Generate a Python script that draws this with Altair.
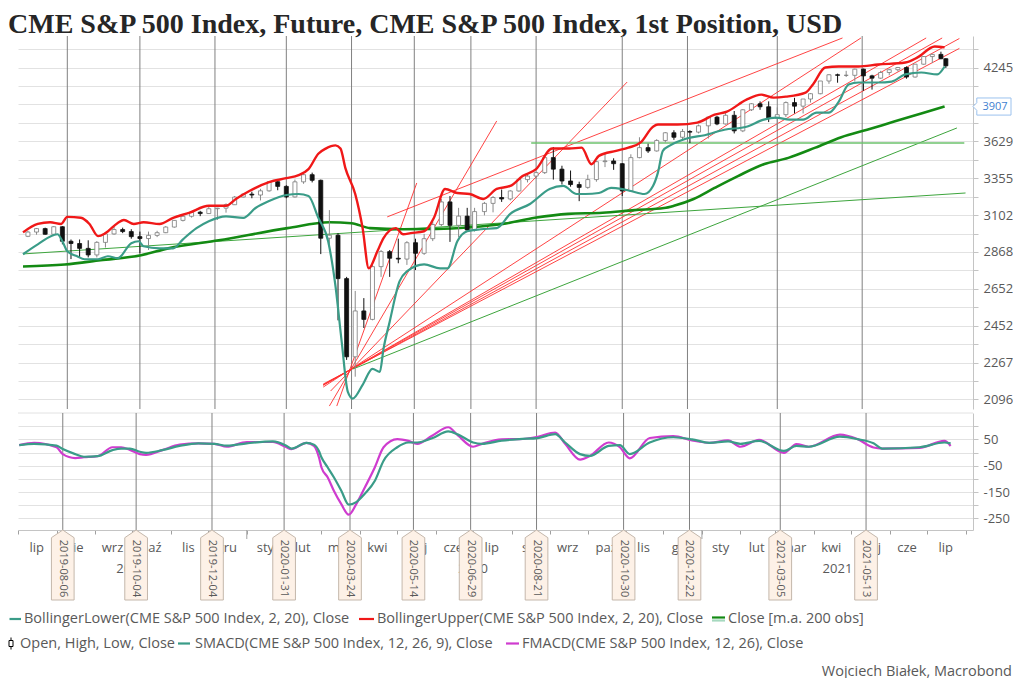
import altair as alt
import pandas as pd

TITLE = "CME S&P 500 Index, Future, CME S&P 500 Index, 1st Position, USD"
F = "Open Sans"

# ---------------- weekly OHLC candles ----------------
candle_dates = [
    "2019-07-05", "2019-07-12", "2019-07-19", "2019-07-26", "2019-08-02", "2019-08-09", "2019-08-16", "2019-08-23",
    "2019-08-30", "2019-09-06", "2019-09-13", "2019-09-20", "2019-09-27", "2019-10-04", "2019-10-11", "2019-10-18",
    "2019-10-25", "2019-11-01", "2019-11-08", "2019-11-15", "2019-11-22", "2019-11-29", "2019-12-06", "2019-12-13",
    "2019-12-20", "2019-12-27", "2020-01-03", "2020-01-10", "2020-01-17", "2020-01-24", "2020-01-31", "2020-02-07",
    "2020-02-14", "2020-02-21", "2020-02-28", "2020-03-06", "2020-03-13", "2020-03-20", "2020-03-27", "2020-04-03",
    "2020-04-10", "2020-04-17", "2020-04-24", "2020-05-01", "2020-05-08", "2020-05-15", "2020-05-22", "2020-05-29",
    "2020-06-05", "2020-06-12", "2020-06-19", "2020-06-26", "2020-07-02", "2020-07-10", "2020-07-17", "2020-07-24",
    "2020-07-31", "2020-08-07", "2020-08-14", "2020-08-21", "2020-08-28", "2020-09-04", "2020-09-11", "2020-09-18",
    "2020-09-25", "2020-10-02", "2020-10-09", "2020-10-16", "2020-10-23", "2020-10-30", "2020-11-06", "2020-11-13",
    "2020-11-20", "2020-11-27", "2020-12-04", "2020-12-11", "2020-12-18", "2020-12-24", "2020-12-31", "2021-01-08",
    "2021-01-15", "2021-01-22", "2021-01-29", "2021-02-05", "2021-02-12", "2021-02-19", "2021-02-26", "2021-03-05",
    "2021-03-12", "2021-03-19", "2021-03-26", "2021-04-01", "2021-04-09", "2021-04-16", "2021-04-23", "2021-04-30",
    "2021-05-07", "2021-05-14", "2021-05-21", "2021-05-28", "2021-06-04", "2021-06-11", "2021-06-18", "2021-06-25",
    "2021-07-02", "2021-07-09", "2021-07-16", "2021-07-20",
]
candle_open = [
    2965, 2992, 3014, 2978, 3026, 2934, 2920, 2890, 2850, 2927, 2980, 3008, 2995, 2963, 2951, 2971,
    2988, 3024, 3067, 3094, 3121, 3112, 3144, 3148, 3171, 3223, 3243, 3237, 3266, 3330, 3297, 3224,
    3329, 3380, 3340, 2953, 2972, 2710, 2295, 2530, 2485, 2780, 2870, 2830, 2825, 2925, 2860, 2950,
    3040, 3190, 3035, 3095, 3005, 3125, 3180, 3220, 3210, 3265, 3345, 3370, 3395, 3505, 3420, 3335,
    3310, 3290, 3345, 3475, 3480, 3460, 3265, 3505, 3580, 3555, 3635, 3695, 3660, 3705, 3700, 3750,
    3820, 3765, 3835, 3710, 3880, 3930, 3905, 3810, 3840, 3940, 3910, 3970, 4015, 4125, 4180, 4175,
    4175, 4230, 4170, 4150, 4200, 4225, 4245, 4160, 4275, 4345, 4365, 4325,
]
candle_high = [
    3000, 3018, 3020, 3030, 3030, 2945, 2945, 2940, 2935, 2985, 3025, 3020, 3010, 2995, 2995, 3000,
    3030, 3068, 3098, 3122, 3130, 3158, 3150, 3180, 3230, 3250, 3260, 3280, 3330, 3340, 3305, 3345,
    3385, 3395, 3345, 3135, 2985, 2720, 2640, 2600, 2810, 2880, 2880, 2950, 2935, 2950, 2980, 3060,
    3210, 3230, 3150, 3150, 3150, 3190, 3230, 3275, 3270, 3350, 3385, 3400, 3505, 3585, 3445, 3410,
    3330, 3380, 3480, 3535, 3500, 3465, 3530, 3660, 3610, 3645, 3700, 3715, 3725, 3715, 3760, 3825,
    3830, 3855, 3870, 3885, 3935, 3950, 3950, 3900, 3950, 3980, 3970, 4020, 4125, 4185, 4190, 4215,
    4235, 4235, 4180, 4215, 4230, 4250, 4255, 4275, 4350, 4370, 4390, 4330,
]
candle_low = [
    2960, 2975, 2975, 2975, 2915, 2825, 2835, 2835, 2835, 2895, 2975, 2985, 2950, 2860, 2880, 2960,
    2985, 3020, 3060, 3085, 3095, 3110, 3070, 3118, 3170, 3220, 3215, 3200, 3260, 3270, 3215, 3220,
    3315, 3325, 2855, 2900, 2480, 2280, 2200, 2440, 2480, 2720, 2720, 2800, 2790, 2760, 2850, 2935,
    3030, 2930, 2960, 3000, 2995, 3100, 3120, 3190, 3200, 3260, 3325, 3350, 3385, 3345, 3310, 3295,
    3195, 3280, 3330, 3435, 3415, 3230, 3260, 3500, 3540, 3550, 3620, 3640, 3645, 3615, 3690, 3650,
    3755, 3760, 3690, 3700, 3870, 3880, 3780, 3720, 3820, 3850, 3850, 3940, 4010, 4100, 4110, 4160,
    4120, 4040, 4050, 4145, 4175, 4210, 4145, 4155, 4270, 4285, 4320, 4240,
]
candle_close = [
    2992, 3014, 2978, 3026, 2934, 2920, 2890, 2850, 2927, 2980, 3008, 2995, 2963, 2951, 2971, 2988,
    3024, 3067, 3094, 3121, 3112, 3144, 3148, 3171, 3223, 3243, 3237, 3266, 3330, 3297, 3224, 3329,
    3380, 3340, 2953, 2972, 2710, 2295, 2530, 2485, 2780, 2870, 2830, 2825, 2925, 2860, 2950, 3040,
    3190, 3035, 3095, 3005, 3125, 3180, 3220, 3210, 3265, 3345, 3370, 3395, 3505, 3420, 3335, 3310,
    3290, 3345, 3475, 3480, 3460, 3265, 3505, 3580, 3555, 3635, 3695, 3660, 3705, 3700, 3750, 3820,
    3765, 3835, 3710, 3880, 3930, 3905, 3810, 3840, 3940, 3910, 3970, 4015, 4125, 4180, 4175, 4175,
    4230, 4170, 4150, 4200, 4225, 4245, 4160, 4275, 4345, 4365, 4325, 4260,
]

# ---------------- Bollinger bands and 200 MA ----------------
upper_dates = [
    "2019-07-01", "2019-07-13", "2019-07-23", "2019-08-01", "2019-08-06", "2019-08-17", "2019-08-24", "2019-08-31",
    "2019-09-06", "2019-09-16", "2019-09-21", "2019-09-29", "2019-10-07", "2019-10-20", "2019-10-31", "2019-11-13",
    "2019-11-29", "2019-12-13", "2019-12-21", "2020-01-01", "2020-01-17", "2020-01-31", "2020-02-10", "2020-02-18",
    "2020-02-26", "2020-03-03", "2020-03-11", "2020-03-15", "2020-03-19", "2020-03-27", "2020-04-02", "2020-04-07",
    "2020-04-14", "2020-04-19", "2020-04-29", "2020-05-05", "2020-05-11", "2020-05-22", "2020-05-30", "2020-06-08",
    "2020-06-18", "2020-06-28", "2020-07-09", "2020-07-20", "2020-07-31", "2020-08-10", "2020-08-21", "2020-09-03",
    "2020-09-17", "2020-09-27", "2020-10-05", "2020-10-11", "2020-10-25", "2020-11-04", "2020-11-14", "2020-11-24",
    "2020-11-28", "2020-12-14", "2020-12-30", "2021-01-13", "2021-01-23", "2021-02-08", "2021-02-20", "2021-03-02",
    "2021-03-12", "2021-03-28", "2021-04-03", "2021-04-13", "2021-04-24", "2021-05-10", "2021-05-26", "2021-06-17",
    "2021-06-27", "2021-07-11", "2021-07-19",
]
upper_vals = [
    2990, 3044, 3055, 3044, 3090, 3084, 3044, 2966, 2985, 3050, 3070, 3044, 3055, 3044, 3084, 3117,
    3164, 3164, 3210, 3265, 3327, 3355, 3377, 3420, 3534, 3573, 3597, 3573, 3427, 3244, 3017, 2770,
    2872, 2954, 3017, 2978, 2985, 2997, 3084, 3279, 3251, 3244, 3210, 3279, 3300, 3370, 3420, 3573,
    3573, 3580, 3456, 3518, 3556, 3580, 3620, 3743, 3760, 3760, 3776, 3840, 3865, 3965, 4007, 3982,
    3990, 4024, 4095, 4245, 4254, 4254, 4272, 4290, 4337, 4439, 4430,
]
lower_dates = [
    "2019-07-01", "2019-07-13", "2019-07-29", "2019-08-02", "2019-08-06", "2019-08-14", "2019-08-20", "2019-08-31",
    "2019-09-08", "2019-09-16", "2019-09-27", "2019-10-03", "2019-10-07", "2019-10-20", "2019-10-31", "2019-11-08",
    "2019-11-19", "2019-11-29", "2019-12-13", "2019-12-27", "2020-01-06", "2020-01-17", "2020-01-31", "2020-02-10",
    "2020-02-18", "2020-02-26", "2020-03-05", "2020-03-11", "2020-03-16", "2020-03-21", "2020-03-25", "2020-04-02",
    "2020-04-10", "2020-04-16", "2020-04-19", "2020-04-24", "2020-05-02", "2020-05-08", "2020-05-22", "2020-06-04",
    "2020-06-10", "2020-06-18", "2020-06-26", "2020-07-07", "2020-07-20", "2020-07-31", "2020-08-16", "2020-09-01",
    "2020-09-12", "2020-09-23", "2020-09-30", "2020-10-11", "2020-10-21", "2020-10-29", "2020-11-06", "2020-11-17",
    "2020-11-24", "2020-11-28", "2020-12-02", "2020-12-08", "2020-12-22", "2021-01-05", "2021-01-21", "2021-02-08",
    "2021-02-22", "2021-03-04", "2021-03-15", "2021-03-26", "2021-04-06", "2021-04-16", "2021-04-24", "2021-05-02",
    "2021-05-10", "2021-05-26", "2021-06-06", "2021-06-17", "2021-06-30", "2021-07-13", "2021-07-19",
]
lower_vals = [
    2854, 2915, 2978, 2934, 2872, 2842, 2824, 2824, 2842, 2830, 2922, 2934, 2903, 2890, 2890, 2946,
    3017, 3062, 3094, 3084, 3149, 3196, 3237, 3244, 3230, 3084, 2934, 2665, 2370, 2130, 2100, 2162,
    2237, 2223, 2335, 2473, 2694, 2752, 2793, 2770, 2770, 2934, 2997, 3010, 3017, 3110, 3176, 3279,
    3300, 3244, 3244, 3251, 3286, 3280, 3265, 3244, 3300, 3395, 3556, 3597, 3652, 3676, 3719, 3743,
    3800, 3816, 3800, 3800, 3857, 3857, 3948, 4095, 4112, 4112, 4120, 4183, 4200, 4183, 4254,
]
ma_dates = [
    "2019-07-01", "2019-08-04", "2019-09-02", "2019-10-05", "2019-10-27", "2019-12-07", "2020-02-01", "2020-03-06",
    "2020-03-24", "2020-04-08", "2020-05-05", "2020-06-01", "2020-06-28", "2020-07-25", "2020-08-20", "2020-09-16",
    "2020-10-14", "2020-11-09", "2020-12-03", "2020-12-11", "2020-12-27", "2021-01-13", "2021-02-01", "2021-02-22",
    "2021-03-14", "2021-04-05", "2021-04-26", "2021-05-17", "2021-06-08", "2021-06-30", "2021-07-19",
]
ma_vals = [
    2781, 2793, 2818, 2848, 2890, 2940, 3017, 3055, 3049, 3017, 3010, 3012, 3023, 3044, 3084, 3110,
    3117, 3135, 3149, 3164, 3210, 3286, 3370, 3456, 3503, 3580, 3660, 3719, 3784, 3849, 3907,
]

# ---------------- MACD ----------------
macd_dates = [
    "2019-07-02", "2019-07-14", "2019-08-01", "2019-08-06", "2019-08-16", "2019-08-23", "2019-09-03", "2019-09-15",
    "2019-09-22", "2019-09-29", "2019-10-07", "2019-10-12", "2019-10-25", "2019-11-08", "2019-11-23", "2019-12-06",
    "2019-12-16", "2020-01-01", "2020-01-22", "2020-02-01", "2020-02-06", "2020-02-18", "2020-02-24", "2020-02-28",
    "2020-03-01", "2020-03-06", "2020-03-11", "2020-03-17", "2020-03-23", "2020-03-29", "2020-04-05", "2020-04-13",
    "2020-04-20", "2020-05-01", "2020-05-10", "2020-05-17", "2020-05-29", "2020-06-11", "2020-06-19", "2020-07-01",
    "2020-07-08", "2020-07-24", "2020-08-07", "2020-08-22", "2020-09-05", "2020-09-13", "2020-09-25", "2020-10-03",
    "2020-10-18", "2020-10-27", "2020-11-04", "2020-11-20", "2020-12-09", "2020-12-24", "2021-01-07", "2021-01-22",
    "2021-02-01", "2021-02-16", "2021-03-08", "2021-03-18", "2021-03-28", "2021-04-22", "2021-05-06", "2021-05-19",
    "2021-05-26", "2021-06-25", "2021-07-15", "2021-07-20",
]
smacd_vals = [
    28, 33, 26, 13, -6, -16, -14, 9, 15, 15, 3, -1, 9, 25, 35, 33,
    26, 35, 42, 28, 15, 37, 30, 6, -18, -56, -94, -145, -198, -188, -156, -107,
    -31, 20, 38, 38, 54, 80, 68, 38, 33, 45, 51, 55, 70, 38, -6, -13,
    25, 28, -6, 38, 58, 50, 37, 42, 33, 44, 6, 25, 22, 60, 51, 35,
    15, 20, 38, 35,
]
fmacd_vals = [
    28, 37, 20, -6, -21, -18, -14, 20, 20, 10, -6, -9, 9, 30, 35, 33,
    22, 40, 40, 22, 13, 37, 25, -18, -56, -94, -145, -196, -236, -196, -132, -56,
    20, 51, 44, 33, 64, 96, 64, 22, 33, 50, 51, 60, 76, 33, -27, -13,
    38, 20, -22, 55, 62, 46, 37, 46, 22, 48, -1, 32, 22, 68, 51, 19,
    15, 18, 44, 25,
]

# ---------------- annotations ----------------
event_dates = ["2019-08-06", "2019-10-04", "2019-12-04", "2020-01-31", "2020-03-24", "2020-05-14",
               "2020-06-29", "2020-08-21", "2020-10-30", "2020-12-22", "2021-03-05", "2021-05-13"]

red_d1 = ["2020-03-12", "2020-03-06", "2020-03-07", "2020-03-01", "2020-03-01", "2020-03-01", "2020-03-01", "2020-03-01", "2020-04-22"]
red_v1 = [2067, 2067, 2134, 2152, 2160, 2162, 2163, 2166, 3090]
red_d2 = ["2020-05-16", "2020-07-20", "2020-11-03", "2021-05-12", "2021-07-04", "2021-07-17", "2021-07-31", "2021-07-31", "2021-04-27"]
red_v2 = [3321, 3789, 4116, 4520, 4520, 4520, 4515, 4421, 4520]
green_d1 = ["2019-07-01", "2020-03-25"]
green_v1 = [2856, 2236]
green_d2 = ["2021-08-05", "2021-07-29"]
green_v2 = [3251, 3733]
level_d1 = ["2020-08-17"]
level_d2 = ["2021-08-04"]
level_v = [3616]

price_tick_labels = [2096, 2267, 2452, 2652, 2868, 3102, 3355, 3629, 4245]
price_steps = [2096, 2267, 2452, 2652, 2868, 3102, 3355, 3629, 3925, 4245, 4591]
macd_tick_labels = [50, -50, -150, -250]
macd_grid = [-250, -200, -150, -100, -50, 0, 50, 100]
macd_top_line = [150]

month_mid_dates = ["2019-07-16", "2019-08-16", "2019-09-15", "2019-10-16", "2019-11-15", "2019-12-16",
                   "2020-01-16", "2020-02-15", "2020-03-16", "2020-04-15", "2020-05-16", "2020-06-15",
                   "2020-07-16", "2020-08-16", "2020-09-15", "2020-10-16", "2020-11-15", "2020-12-16",
                   "2021-01-16", "2021-02-14", "2021-03-16", "2021-04-15", "2021-05-16", "2021-06-15", "2021-07-16"]
month_names = ["lip", "sie", "wrz", "paź", "lis", "gru", "sty", "lut", "mar", "kwi", "maj", "cze",
               "lip", "sie", "wrz", "paź", "lis", "gru", "sty", "lut", "mar", "kwi", "maj", "cze", "lip"]
year_mid_dates = ["2019-09-30", "2020-07-01", "2021-04-20"]
year_names = ["2019", "2020", "2021"]
year_starts = ["2020-01-01", "2021-01-01"]

legend_labels = [
    "BollingerLower(CME S&P 500 Index, 2, 20), Close",
    "BollingerUpper(CME S&P 500 Index, 2, 20), Close",
    "Close [m.a. 200 obs]",
    "Open, High, Low, Close",
    "SMACD(CME S&P 500 Index, 12, 26, 9), Close",
    "FMACD(CME S&P 500 Index, 12, 26), Close",
]
credit = "Wojciech Białek, Macrobond"

# ---------------- colours ----------------
C_RED = "#f01818"
C_TEAL = "#3a9c88"
C_MA = "#138a13"
C_MAG = "#cf3ccf"
C_GRID = "#e2e2e2"
C_AX = "#c4c4c4"
C_TXT = "#595959"

# ---------------- frames ----------------
W, H1, H2 = 955, 373, 117
LEG_FS = 14.5
xscale = alt.Scale(domain=[alt.DateTime(year=2019, month=7, date=1), alt.DateTime(year=2021, month=8, date=7)], nice=False)
yscale = alt.Scale(type="log", domain=[2054, 4539], nice=False)
mscale = alt.Scale(domain=[-294, 150], nice=False)

half_steps = [(a * b) ** 0.5 for a, b in zip(price_steps[:-1], price_steps[1:])]
price_grid = sorted(price_steps[:-1] + half_steps)

price_axis = alt.Axis(orient="right", values=price_grid, grid=True, gridColor=C_GRID, gridWidth=1,
                      tickColor=C_AX, tickSize=5, domainColor=C_AX, labelPadding=5, labelOverlap=False,
                      labelFont=F, labelFontSize=13, labelColor=C_TXT, title=None,
                      labelExpr=f"indexof({price_tick_labels}, round(datum.value)) >= 0 ? '' + round(datum.value) : ''")
macd_axis = alt.Axis(orient="right", values=macd_grid, grid=True, gridColor=C_GRID, gridWidth=1,
                     tickColor=C_AX, tickSize=5, domainColor=C_AX, labelPadding=5, labelOverlap=False,
                     labelFont=F, labelFontSize=13, labelColor=C_TXT, title=None,
                     labelExpr=f"indexof({macd_tick_labels}, datum.value) >= 0 ? '' + datum.value : ''")
month_starts = [alt.DateTime(year=d.year, month=d.month, date=1) for d in pd.date_range("2019-07-01", "2021-08-01", freq="MS")]
time_axis = alt.Axis(values=month_starts, labels=False, tickSize=4, tickColor="#a0a0a0", domainColor=C_AX,
                     grid=False, title=None)


def px(field):
    return alt.X(f"{field}:T", scale=xscale, axis=None)


def py(field):
    return alt.Y(f"{field}:Q", scale=yscale, axis=price_axis)


def mx(field):
    return alt.X(f"{field}:T", scale=xscale, axis=time_axis)


def my(field):
    return alt.Y(f"{field}:Q", scale=mscale, axis=macd_axis)


cdf = pd.DataFrame({"date": pd.to_datetime(candle_dates), "open": candle_open, "high": candle_high,
                    "low": candle_low, "close": candle_close})
cdf["up"] = cdf["close"] >= cdf["open"]
udf = pd.DataFrame({"date": pd.to_datetime(upper_dates), "v": upper_vals})
ldf = pd.DataFrame({"date": pd.to_datetime(lower_dates), "v": lower_vals})
madf = pd.DataFrame({"date": pd.to_datetime(ma_dates), "v": ma_vals})
edf = pd.DataFrame({"date": pd.to_datetime(event_dates), "t": event_dates})
rdf = pd.DataFrame({"d1": pd.to_datetime(red_d1), "v1": red_v1, "d2": pd.to_datetime(red_d2), "v2": red_v2})
gdf = pd.DataFrame({"d1": pd.to_datetime(green_d1), "v1": green_v1, "d2": pd.to_datetime(green_d2), "v2": green_v2})
hdf = pd.DataFrame({"d1": pd.to_datetime(level_d1), "d2": pd.to_datetime(level_d2), "v1": level_v, "v2": level_v})
mdf = pd.DataFrame({"date": pd.to_datetime(macd_dates), "s": smacd_vals, "f": fmacd_vals})
lastdf = pd.DataFrame({"v": [ma_vals[-1]], "t": [str(ma_vals[-1])]})

# ---------------- price panel ----------------
p_title = alt.Chart(pd.DataFrame({"t": [TITLE]})).mark_text(
    font="Liberation Serif", fontSize=28, fontWeight="bold", color="#262626", align="left", baseline="alphabetic"
).encode(x=alt.value(-10), y=alt.value(-3), text="t:N")
p_events = alt.Chart(edf).mark_rule(color="#808080", strokeWidth=1).encode(x=px("date"))
p_red = alt.Chart(rdf).mark_rule(color="#ff3030", strokeWidth=1, opacity=0.9).encode(
    x=px("d1"), x2="d2", y=py("v1"), y2="v2")
p_green = alt.Chart(gdf).mark_rule(color="#3da53d", strokeWidth=1).encode(x=px("d1"), x2="d2", y=py("v1"), y2="v2")
p_level = alt.Chart(hdf).mark_rule(color="#6cc26c", strokeWidth=1.6).encode(x=px("d1"), x2="d2", y=py("v1"), y2="v2")
p_ma = alt.Chart(madf).mark_line(color=C_MA, strokeWidth=2.6, interpolate="monotone").encode(x=px("date"), y=py("v"))
p_wick = alt.Chart(cdf).mark_rule(strokeWidth=1).encode(
    x=px("date"), y=py("low"), y2="high",
    color=alt.condition("datum.up", alt.value("#8a8a8a"), alt.value("#111111")))
p_body = alt.Chart(cdf).mark_bar(width=4, strokeWidth=0.8).encode(
    x=px("date"), y=py("open"), y2="close",
    fill=alt.condition("datum.up", alt.value("#ffffff"), alt.value("#111111")),
    stroke=alt.condition("datum.up", alt.value("#7a7a7a"), alt.value("#111111")))
p_lower = alt.Chart(ldf).mark_line(color=C_TEAL, strokeWidth=2.2, interpolate="monotone").encode(x=px("date"), y=py("v"))
p_upper = alt.Chart(udf).mark_line(color=C_RED, strokeWidth=2.4, interpolate="monotone").encode(x=px("date"), y=py("v"))
p_box = alt.Chart(lastdf).mark_point(
    shape="M-1,0L-0.8,-0.2L-0.8,-0.45L1,-0.45L1,0.45L-0.8,0.45L-0.8,0.2Z",
    size=1444, filled=True, fill="#ffffff", stroke="#9cc2ee", strokeWidth=1, opacity=1).encode(
    x=alt.value(W + 19), y=py("v"))
p_boxtxt = alt.Chart(lastdf).mark_text(font=F, fontSize=11, color="#3f7fd0").encode(
    x=alt.value(W + 22), y=py("v"), text="t:N")

price = alt.layer(p_title, p_events, p_red, p_green, p_level, p_ma, p_wick, p_body, p_lower, p_upper, p_box, p_boxtxt
                  ).properties(width=W, height=H1)

# ---------------- MACD panel ----------------
m_top = alt.Chart(pd.DataFrame({"v": macd_top_line})).mark_rule(color=C_GRID, strokeWidth=1).encode(y=my("v"))
m_events = alt.Chart(edf).mark_rule(color="#808080", strokeWidth=1).encode(x=mx("date"))
m_f = alt.Chart(mdf).mark_line(color=C_MAG, strokeWidth=2.2, interpolate="monotone").encode(x=mx("date"), y=my("f"))
m_s = alt.Chart(mdf).mark_line(color=C_TEAL, strokeWidth=2.2, interpolate="monotone").encode(x=mx("date"), y=my("s"))

ydf = pd.DataFrame({"date": pd.to_datetime(year_starts)})
m_yt = alt.Chart(ydf).mark_rule(color="#a0a0a0").encode(x=mx("date"), y=alt.value(H2), y2=alt.value(H2 + 9))
mondf = pd.DataFrame({"date": pd.to_datetime(month_mid_dates), "t": month_names})
m_mon = alt.Chart(mondf).mark_text(font=F, fontSize=13, color=C_TXT).encode(x=mx("date"), y=alt.value(H2 + 18), text="t:N")
yrdf = pd.DataFrame({"date": pd.to_datetime(year_mid_dates), "t": year_names})
m_yr = alt.Chart(yrdf).mark_text(font=F, fontSize=13, color=C_TXT).encode(x=mx("date"), y=alt.value(H2 + 39), text="t:N")
m_tag = alt.Chart(edf).mark_point(
    shape="M0,-1L0.324,-0.78L0.324,1L-0.324,1L-0.324,-0.78Z",
    size=4900, filled=True, fill="#fdf1e7", stroke="#c4b7ab", strokeWidth=1, opacity=1).encode(
    x=mx("date"), y=alt.value(H2 + 35))
m_tagtxt = alt.Chart(edf).mark_text(font=F, fontSize=11, color=C_TXT, angle=90).encode(
    x=mx("date"), y=alt.value(H2 + 38.5), text="t:N")

# legend
R1, R2 = 206, 230.5


def dash(x1, x2, y, color, w=2.2):
    return alt.Chart(pd.DataFrame({"a": [0]})).mark_rule(color=color, strokeWidth=w).encode(
        x=alt.value(x1), x2=alt.value(x2), y=alt.value(y))


def label(x, y, text, align="left"):
    return alt.Chart(pd.DataFrame({"t": [text]})).mark_text(
        font=F, fontSize=LEG_FS, color=C_TXT, align=align, baseline="middle").encode(
        x=alt.value(x), y=alt.value(y), text="t:N")


leg = [
    dash(-8.5, 3, R1, C_TEAL), label(6, R1, legend_labels[0]),
    dash(341, 356, R1, C_RED), label(359, R1, legend_labels[1]),
    dash(694, 707, R1 - 1.5, C_MA), dash(694, 707, R1 + 1.5, "#a6d9bf"), label(710, R1, legend_labels[2]),
    alt.Chart(pd.DataFrame({"a": [0]})).mark_rule(color="#000000", strokeWidth=1).encode(
        x=alt.value(-7), y=alt.value(R2 - 6), y2=alt.value(R2 + 6)),
    alt.Chart(pd.DataFrame({"a": [0]})).mark_rect(fill="#ffffff", stroke="#000000", strokeWidth=1).encode(
        x=alt.value(-9), x2=alt.value(-5), y=alt.value(R2 - 3), y2=alt.value(R2 + 3)),
    label(2, R2, legend_labels[3]),
    dash(160, 172, R2, C_TEAL), label(177, R2, legend_labels[4]),
    dash(488, 501, R2, C_MAG), label(504, R2, legend_labels[5]),
    label(994, 258.5, credit, align="right"),
]

macd = alt.layer(m_top, m_events, m_f, m_s, m_yt, m_mon, m_yr, m_tag, m_tagtxt, *leg).properties(width=W, height=H2)

chart = alt.vconcat(price, macd, spacing=2).properties(
    padding={"left": 0, "top": 3, "right": 0, "bottom": 0},
).configure_view(stroke=None)

chart.save("out.html", embed_options={"renderer": "svg", "actions": False})
